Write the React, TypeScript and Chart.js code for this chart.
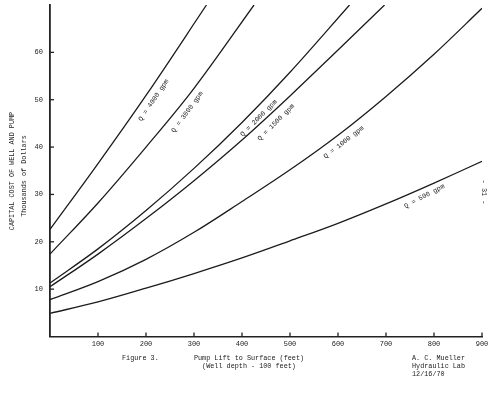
import React, { useEffect, useRef } from 'react';
import { Chart, registerables } from 'chart.js';
Chart.register(...registerables);

// Pump lift to surface (feet) and capital cost (thousands of dollars) per discharge curve
const q500Lift = [0, 100, 200, 300, 400, 500, 600, 700, 800, 900];
const q500Cost = [4.9, 7.3, 10.2, 13.3, 16.6, 20.2, 23.9, 28.0, 32.4, 37.0];
const q1000Lift = [0, 100, 200, 300, 400, 500, 600, 700, 800, 900];
const q1000Cost = [7.8, 11.6, 16.3, 22.0, 28.5, 35.2, 42.5, 50.7, 59.6, 69.3];
const q1500Lift = [0, 100, 200, 300, 400, 500, 600, 697];
const q1500Cost = [10.5, 17.4, 24.9, 32.9, 41.5, 50.8, 60.5, 70];
const q2000Lift = [0, 100, 200, 300, 400, 500, 624];
const q2000Cost = [11.3, 18.5, 26.6, 35.5, 45.2, 55.8, 70];
const q3000Lift = [0, 100, 200, 300, 425];
const q3000Cost = [17.4, 28.2, 40.0, 52.4, 70];
const q4000Lift = [0, 100, 200, 326];
const q4000Cost = [22.6, 36.5, 50.9, 70];

// Curve labels (anchored in data coordinates)
const curveLabelText = ['Q = 4000 gpm', 'Q = 3000 gpm', 'Q = 2000 gpm', 'Q = 1500 gpm', 'Q = 1000 gpm', 'Q = 500 gpm'];
const curveLabelLift = [216, 286, 435, 471, 612, 780];
const curveLabelCost = [49.9, 47.4, 46.1, 45.2, 41.0, 29.6];
const curveLabelAngle = [-56, -54, -45, -45, -38, -28];

// Axis ticks
const xTickValues = [100, 200, 300, 400, 500, 600, 700, 800, 900];
const yTickValues = [10, 20, 30, 40, 50, 60];
const xMin = 0, xMax = 900, yMin = 0, yMax = 70;

const yTitleLines = ['CAPITAL COST OF WELL AND PUMP', 'Thousands of Dollars'];
const figureLabel = 'Figure 3.';
const xTitleLines = ['Pump Lift to Surface (feet)', '(Well depth - 100 feet)'];
const authorLines = ['A. C. Mueller', 'Hydraulic Lab', '12/16/70'];
const pageLabel = '- 31 -';

const FONT = '"Liberation Mono", "DejaVu Sans Mono", monospace';
const INK = '#222';

function pts(xs: number[], ys: number[]) {
  return xs.map((x, i) => ({ x, y: ys[i] }));
}

export default function App() {
  const ref = useRef<HTMLCanvasElement | null>(null);
  useEffect(() => {
    if (!ref.current) return;
    const series = [
      [q500Lift, q500Cost],
      [q1000Lift, q1000Cost],
      [q1500Lift, q1500Cost],
      [q2000Lift, q2000Cost],
      [q3000Lift, q3000Cost],
      [q4000Lift, q4000Cost],
    ];
    const decorations = {
      id: 'decorations',
      afterDraw(chart: any) {
        const ctx = chart.ctx as CanvasRenderingContext2D;
        const xs = chart.scales.x;
        const ys = chart.scales.y;
        const area = chart.chartArea;
        ctx.save();
        ctx.strokeStyle = INK;
        ctx.lineWidth = 1.3;
        // inward tick marks
        xTickValues.forEach((v) => {
          const px = xs.getPixelForValue(v);
          ctx.beginPath();
          ctx.moveTo(px, area.bottom);
          ctx.lineTo(px, area.bottom - 4);
          ctx.stroke();
        });
        yTickValues.forEach((v) => {
          const py = ys.getPixelForValue(v);
          ctx.beginPath();
          ctx.moveTo(area.left, py);
          ctx.lineTo(area.left + 4, py);
          ctx.stroke();
        });
        ctx.fillStyle = INK;
        ctx.font = `6.8px ${FONT}`;
        ctx.textBaseline = 'middle';
        ctx.textAlign = 'center';
        // curve labels
        curveLabelText.forEach((t, i) => {
          const px = xs.getPixelForValue(curveLabelLift[i]);
          const py = ys.getPixelForValue(curveLabelCost[i]);
          ctx.save();
          ctx.translate(px, py);
          ctx.rotate((curveLabelAngle[i] * Math.PI) / 180);
          ctx.fillText(t, 0, 0);
          ctx.restore();
        });
        // y title (two rotated lines)
        const midY = 171;
        [[12, midY], [24, midY + 5]].forEach(([x, y], i) => {
          ctx.save();
          ctx.translate(x, y);
          ctx.rotate(-Math.PI / 2);
          ctx.fillText(yTitleLines[i], 0, 0);
          ctx.restore();
        });
        // bottom captions
        const capY = area.bottom + 22;
        ctx.textAlign = 'left';
        ctx.fillText(figureLabel, 122, capY);
        ctx.textAlign = 'center';
        ctx.fillText(xTitleLines[0], 249, capY);
        ctx.fillText(xTitleLines[1], 249, capY + 7.5);
        ctx.textAlign = 'left';
        authorLines.forEach((t, i) => ctx.fillText(t, 412, capY + i * 7.8));
        // page number
        ctx.save();
        ctx.translate(484, 192);
        ctx.rotate(Math.PI / 2);
        ctx.textAlign = 'center';
        ctx.fillText(pageLabel, 0, 0);
        ctx.restore();
        ctx.restore();
      },
    };
    const chart = new Chart(ref.current, {
      type: 'line',
      data: {
        datasets: series.map(([xv, yv]) => ({
          data: pts(xv, yv),
          borderColor: '#1c1c1c',
          borderWidth: 1.3,
          pointRadius: 0,
          fill: false,
          tension: 0.35,
        })),
      },
      options: {
        animation: false,
        responsive: false,
        layout: { padding: { left: 0, right: 11, top: 5, bottom: 0 } },
        plugins: { legend: { display: false }, tooltip: { enabled: false } },
        scales: {
          x: {
            type: 'linear',
            min: xMin,
            max: xMax,
            afterBuildTicks: (s: any) => {
              s.ticks = [xMin, ...xTickValues].map((v) => ({ value: v }));
            },
            ticks: {
              callback: (v: any) => (v === 0 ? '' : String(v)),
              font: { family: FONT, size: 7 },
              color: INK,
              padding: 3,
              maxRotation: 0,
              autoSkip: false,
            },
            grid: { drawOnChartArea: false, drawTicks: false },
            border: { color: INK, width: 1.6 },
            afterFit: (s: any) => {
              s.height = 61.5;
              s.paddingLeft = 0;
              s.paddingRight = 0;
            },
          },
          y: {
            min: yMin,
            max: yMax,
            afterBuildTicks: (s: any) => {
              s.ticks = [yMin, ...yTickValues].map((v) => ({ value: v }));
            },
            ticks: {
              callback: (v: any) => (v === yMin ? '' : String(v)),
              font: { family: FONT, size: 7 },
              color: INK,
              padding: 7,
            },
            grid: { drawOnChartArea: false, drawTicks: false },
            border: { color: INK, width: 1.8 },
            afterFit: (s: any) => {
              s.width = 50;
              s.paddingTop = 0;
              s.paddingBottom = 0;
            },
          },
        },
      },
      plugins: [decorations],
    });
    return () => chart.destroy();
  }, []);
  return (
    <div style={{ position: 'fixed', left: 0, top: 0, width: 493, height: 398, background: '#fff' }}>
      <canvas ref={ref} width={493} height={398} style={{ display: 'block' }} />
    </div>
  );
}
